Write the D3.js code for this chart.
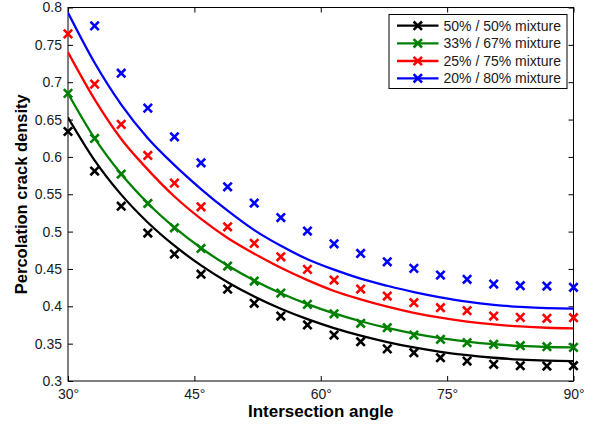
<!DOCTYPE html>
<html>
<head>
<meta charset="utf-8">
<script src="https://cdn.jsdelivr.net/npm/d3@7"></script>
<style>
  html, body { margin: 0; padding: 0; background: #fff; }
  svg { display: block; font-family: "Liberation Sans", Arial, Helvetica, sans-serif; }
</style>
</head>
<body>
<svg id="chart" width="593" height="425"></svg>
<script>
// ---- data ----
const angles = [30, 33.158, 36.316, 39.474, 42.632, 45.789, 48.947, 52.105, 55.263, 58.421,
                61.579, 64.737, 67.895, 71.053, 74.211, 77.368, 80.526, 83.684, 86.842, 90];

const seriesNames = ["50% / 50% mixture", "33% / 67% mixture", "25% / 75% mixture", "20% / 80% mixture"];
const seriesColors = ["#000000", "#008000", "#ff0000", "#0000ff"];

// simulated points (markers)
const pts5050 = [0.634, 0.581, 0.534, 0.498, 0.470, 0.443, 0.423, 0.404, 0.387, 0.375,
                 0.3615, 0.3526, 0.3430, 0.3379, 0.3312, 0.3267, 0.3223, 0.3205, 0.3200, 0.3205];
const pts3367 = [0.685, 0.6247, 0.577, 0.5377, 0.5051, 0.4775, 0.4539, 0.4338, 0.4177, 0.4026,
                 0.3900, 0.3772, 0.3713, 0.3615, 0.3558, 0.3513, 0.3491, 0.3472, 0.3459, 0.3450];
const pts2575 = [0.7647, 0.6974, 0.6435, 0.6020, 0.5649, 0.5332, 0.5064, 0.4842, 0.4663, 0.4494,
                 0.4351, 0.4231, 0.4137, 0.4048, 0.3981, 0.3941, 0.3870, 0.3852, 0.3839, 0.3847];
const pts2080 = [null, 0.7754, 0.7121, 0.6653, 0.6269, 0.5921, 0.5600, 0.5382, 0.5188, 0.5007,
                 0.4837, 0.4708, 0.4596, 0.4508, 0.4418, 0.4361, 0.4298, 0.4276, 0.4271, 0.4254];

// fitted curves (lines)
const fit5050 = [0.6528, 0.5954, 0.5495, 0.5122, 0.4811, 0.4548, 0.4323, 0.4131, 0.3968, 0.3829,
                 0.3709, 0.3608, 0.3522, 0.3449, 0.3391, 0.3346, 0.3311, 0.3287, 0.3273, 0.3267];
const fit3367 = [0.685, 0.625, 0.577, 0.538, 0.5055, 0.478, 0.4545, 0.4345, 0.4175, 0.4030,
                 0.3905, 0.3800, 0.3710, 0.3635, 0.3575, 0.3528, 0.3493, 0.3469, 0.3455, 0.3450];
const fit2575 = [0.740, 0.677, 0.624, 0.583, 0.547, 0.517, 0.4915, 0.4705, 0.4515, 0.435,
                 0.4205, 0.4093, 0.3995, 0.3913, 0.3847, 0.3796, 0.3757, 0.3730, 0.3713, 0.3705];
const fit2080 = [0.793, 0.726, 0.670, 0.625, 0.589, 0.557, 0.528, 0.502, 0.481, 0.463,
                 0.449, 0.437, 0.4275, 0.419, 0.412, 0.4062, 0.402, 0.3992, 0.3975, 0.397];

const xTicks = [30, 45, 60, 75, 90];
const yTicks = [0.3, 0.35, 0.4, 0.45, 0.5, 0.55, 0.6, 0.65, 0.7, 0.75, 0.8];

const pointSets = [pts5050, pts3367, pts2575, pts2080];
const fitSets = [fit5050, fit3367, fit2575, fit2080];

// ---- layout ----
const svg = d3.select("#chart");
const L = 68, R = 573.5, T = 7.5, B = 381;

const x = d3.scaleLinear().domain([30, 90]).range([L, R]);
const y = d3.scaleLinear().domain([0.3, 0.8]).range([B, T]);

svg.append("rect").attr("width", 593).attr("height", 425).attr("fill", "#fff");

svg.append("clipPath").attr("id", "clip")
  .append("rect").attr("x", L).attr("y", T).attr("width", R - L).attr("height", B - T);

// axes
const tickLen = 5;
const gx = svg.append("g").attr("transform", `translate(0,${B})`)
  .call(d3.axisBottom(x).tickValues(xTicks).tickSize(-tickLen).tickPadding(8).tickFormat(d => d + "°"));
const gxTop = svg.append("g").attr("transform", `translate(0,${T})`)
  .call(d3.axisTop(x).tickValues(xTicks).tickSize(-tickLen).tickFormat(""));
const gy = svg.append("g").attr("transform", `translate(${L},0)`)
  .call(d3.axisLeft(y).tickValues(yTicks).tickSize(-tickLen).tickPadding(6).tickFormat(d => String(+d.toFixed(2))));
const gyR = svg.append("g").attr("transform", `translate(${R},0)`)
  .call(d3.axisRight(y).tickValues(yTicks).tickSize(-tickLen).tickFormat(""));

[gx, gxTop, gy, gyR].forEach(g => {
  g.select(".domain").remove();
  g.selectAll(".tick line").attr("stroke", "#000").attr("stroke-width", 1);
  g.selectAll(".tick text").attr("fill", "#1a1a1a").style("font-size", "14px")
    .style("font-family", "'Liberation Sans', Arial, sans-serif");
});

// box
svg.append("rect").attr("x", L).attr("y", T).attr("width", R - L).attr("height", B - T)
  .attr("fill", "none").attr("stroke", "#000").attr("stroke-width", 1);

// lines
const line = d3.line().x((d, i) => x(angles[i])).y(d => y(d)).curve(d3.curveMonotoneX);
const plot = svg.append("g");
fitSets.forEach((fs, k) => {
  plot.append("path").attr("d", line(fs)).attr("fill", "none")
    .attr("stroke", seriesColors[k]).attr("stroke-width", 2.3)
    .attr("clip-path", "url(#clip)");
});

// markers
const ms = 4.2;
function cross(g, cx, cy, color) {
  g.append("path")
    .attr("d", `M${cx - ms},${cy - ms}L${cx + ms},${cy + ms}M${cx - ms},${cy + ms}L${cx + ms},${cy - ms}`)
    .attr("stroke", color).attr("stroke-width", 2.6).attr("fill", "none");
}
pointSets.forEach((ps, k) => {
  const g = plot.append("g");
  ps.forEach((v, i) => {
    if (v === null || v > 0.8 || v < 0.3) return;
    cross(g, x(angles[i]), y(v), seriesColors[k]);
  });
});

// axis labels
svg.append("text").attr("x", (L + R) / 2).attr("y", 417)
  .attr("text-anchor", "middle").style("font-weight", "bold").style("font-size", "17px")
  .text("Intersection angle");
svg.append("text").attr("transform", `translate(27,${(T + B) / 2}) rotate(-90)`)
  .attr("text-anchor", "middle").style("font-weight", "bold").style("font-size", "16.5px")
  .text("Percolation crack density");

// legend
const lg = svg.append("g");
const lx = 389, ly = 14.5, lw = 178, lh = 74;
lg.append("rect").attr("x", lx).attr("y", ly).attr("width", lw).attr("height", lh)
  .attr("fill", "#fff").attr("stroke", "#000").attr("stroke-width", 1);
const rowY = [25.7, 43.3, 61, 78.3];
seriesNames.forEach((name, k) => {
  const yy = rowY[k];
  lg.append("line").attr("x1", 397).attr("x2", 438.5).attr("y1", yy).attr("y2", yy)
    .attr("stroke", seriesColors[k]).attr("stroke-width", 2.3);
  cross(lg, 417.8, yy, seriesColors[k]);
  lg.append("text").attr("x", 443.5).attr("y", yy).attr("dy", "0.35em")
    .style("font-size", "14px").attr("fill", "#1a1a1a").text(name);
});
</script>
</body>
</html>
